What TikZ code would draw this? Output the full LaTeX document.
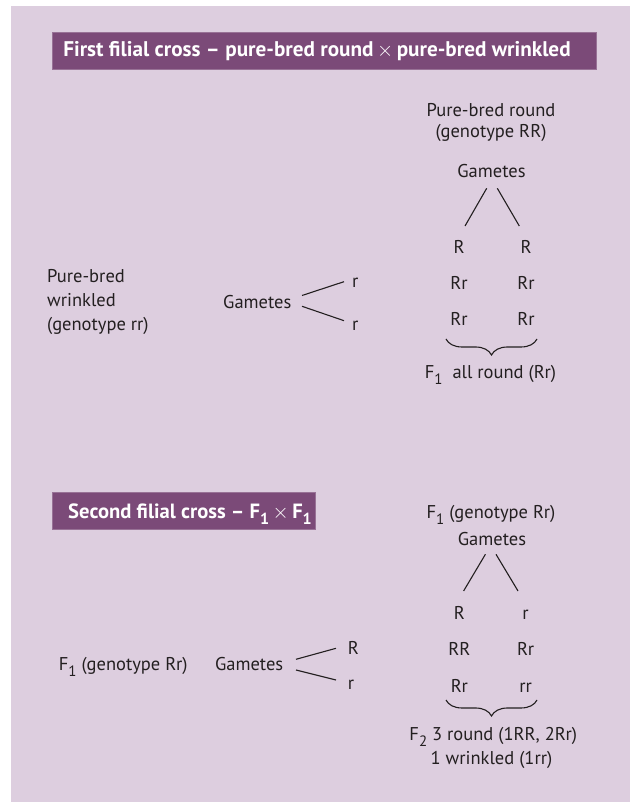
\documentclass[tikz,border=0pt]{standalone}
\usepackage{fontspec}
\setmainfont{PT Sans}
\usetikzlibrary{decorations.pathreplacing}

\definecolor{panel}{RGB}{221,206,223}
\definecolor{banner}{RGB}{123,74,120}
\definecolor{bannerrim}{RGB}{152,114,150}
\definecolor{ink}{RGB}{35,31,32}

% lowered, slightly smaller index digit (F1, F2)
\newcommand\lowidx[1]{\raisebox{-6pt}{\fontsize{15}{15}\selectfont #1}}
\newcommand\lowidxb[1]{\raisebox{-6pt}{\fontsize{16}{16}\selectfont\bfseries #1}}
% light multiplication sign used in the banners
\newcommand\crosssign{\,{\mdseries$\times$}\,}

\begin{document}
\begin{tikzpicture}[x=1pt,y=1pt,
  txt/.style={inner sep=0pt, text=ink, font=\fontsize{18.5}{24}\selectfont},
  bannerbox/.style={fill=banner, draw=bannerrim, line width=0.8pt},
  bannertext/.style={inner sep=0pt, text=white, font=\fontsize{21.2}{24}\selectfont\bfseries},
  fork/.style={draw=ink, line width=1.1pt},
  bracket/.style={draw=ink, line width=1.1pt, decorate,
    decoration={brace, mirror, amplitude=16pt}}]

\useasboundingbox (0,0) rectangle (630,802);
\fill[panel] (11,0) rectangle (630,796);

% ---------------- first filial cross ----------------
\draw[bannerbox] (52,733) rectangle (596,770);
\node[bannertext, anchor=base] (title1) at (317,745)
  {First filial cross -- pure-bred round\crosssign pure-bred wrinkled};

% round parent
\node[txt] (roundA) at (491,692) {Pure-bred round};
\node[txt] (roundB) at (491,668.7) {(genotype RR)};
\node[txt] (gamR) at (491.5,631) {Gametes};
\coordinate (gamRl) at (486.7,613.7);
\coordinate (gamRr) at (497.3,613.7);
\node[txt, anchor=base] (cR1) at (459,548.8) {R};
\node[txt, anchor=base] (cR2) at (526,548.8) {R};
\coordinate (cR1t) at (465,576);
\coordinate (cR2t) at (519.3,576);
\draw[fork] (gamRl) -- (cR1t);
\draw[fork] (gamRr) -- (cR2t);

% offspring grid
\node[txt, anchor=base] (o11) at (459,512.8) {Rr};
\node[txt, anchor=base] (o12) at (526,512.8) {Rr};
\node[txt, anchor=base] (o21) at (459,476.5) {Rr};
\node[txt, anchor=base] (o22) at (526,476.5) {Rr};
\coordinate (br1a) at (446,463);
\coordinate (br1b) at (537,463);
\draw[bracket] (br1a) -- (br1b);
\node[txt, anchor=base] (res1) at (490.5,423.7) {F\lowidx{1}\ \ all round (Rr)};

% wrinkled parent
\node[txt, anchor=base west] (wrA) at (47,519.5) {Pure-bred};
\node[txt, anchor=base west] (wrB) at (47,495.5) {wrinkled};
\node[txt, anchor=base west] (wrC) at (47,471.5) {(genotype rr)};
\node[txt, anchor=base west] (gamW) at (223,493.8) {Gametes};
\node[txt, anchor=west] (cW1) at (352,519) {r};
\node[txt, anchor=west] (cW2) at (352,476) {r};
\coordinate (gamWu) at (302,506.5);
\coordinate (gamWd) at (302,495.7);
\coordinate (cW1e) at (344,520.3);
\coordinate (cW2e) at (344,481.3);
\draw[fork] (gamWu) -- (cW1e);
\draw[fork] (gamWd) -- (cW2e);

% ---------------- second filial cross ----------------
\draw[bannerbox] (52,273) rectangle (315,310);
\node[bannertext, anchor=base west, font=\fontsize{20.6}{24}\selectfont\bfseries] (title2) at (68,283.3)
  {Second filial cross -- F\lowidxb{1}\crosssign F\lowidxb{1}};

% right-hand F1 parent
\node[txt, anchor=base] (hetA) at (491,283.7) {F\lowidx{1} (genotype Rr)};
\node[txt] (gamH) at (492,262.7) {Gametes};
\coordinate (gamHl) at (485.4,247.7);
\coordinate (gamHr) at (496,247.7);
\node[txt, anchor=base] (cH1) at (459.4,182.2) {R};
\node[txt, anchor=base] (cH2) at (525.6,182.2) {r};
\coordinate (cH1t) at (463.6,211);
\coordinate (cH2t) at (518,211);
\draw[fork] (gamHl) -- (cH1t);
\draw[fork] (gamHr) -- (cH2t);

% offspring grid
\node[txt, anchor=base] (p11) at (459.4,146.2) {RR};
\node[txt, anchor=base] (p12) at (525.6,146.2) {Rr};
\node[txt, anchor=base] (p21) at (459.4,109.3) {Rr};
\node[txt, anchor=base] (p22) at (525.6,109.3) {rr};
\coordinate (br2a) at (446,102);
\coordinate (br2b) at (537,102);
\draw[bracket] (br2a) -- (br2b);
\node[txt, anchor=base] (res2a) at (493.3,61) {F\lowidx{2} 3 round (1RR, 2Rr)};
\node[txt, anchor=base] (res2b) at (491.5,37.7) {1 wrinkled (1rr)};

% left-hand F1 parent
\node[txt, anchor=base west] (hetB) at (58.7,131.3) {F\lowidx{1} (genotype Rr)};
\node[txt, anchor=base west] (gamL) at (214.8,131.3) {Gametes};
\node[txt, anchor=west] (cL1) at (347.6,153.7) {R};
\node[txt, anchor=west] (cL2) at (347.6,117) {r};
\coordinate (gamLu) at (296,142.7);
\coordinate (gamLd) at (296,132);
\coordinate (cL1e) at (336,153.7);
\coordinate (cL2e) at (336,122);
\draw[fork] (gamLu) -- (cL1e);
\draw[fork] (gamLd) -- (cL2e);
\end{tikzpicture}
\end{document}
